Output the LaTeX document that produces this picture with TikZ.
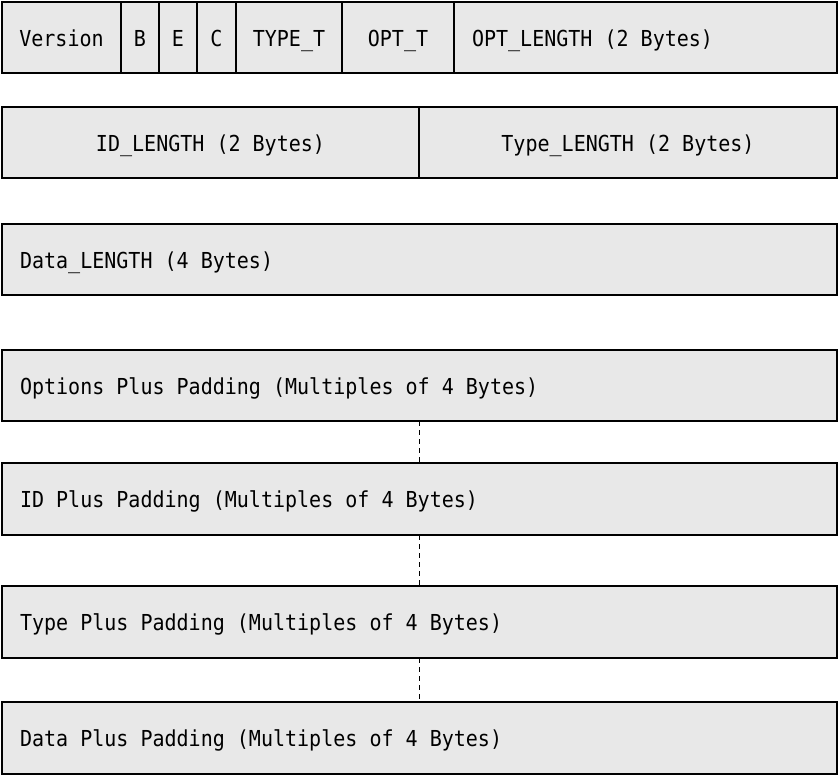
\documentclass[tikz,border=0pt]{standalone}
\usepackage{fontspec}
\setmonofont[FakeStretch=0.91]{DejaVu Sans Mono}
\usepackage{xcolor}
\usepackage{tikz}
\definecolor{fieldfill}{HTML}{E8E8E8}
\definecolor{rule}{HTML}{000000}
\tikzset{
  field/.style={draw=rule, fill=fieldfill, line width=2pt, anchor=north west,
    minimum height=71pt, inner sep=0pt, outer sep=0pt,
    text height=21pt, text depth=4pt,
    font=\ttfamily\fontsize{22}{26}\selectfont},
  lfield/.style={field, align=flush left, inner xsep=18pt},
  gap/.style={draw=rule, dashed, line width=1pt, dash pattern=on 5pt off 4pt}
}
\begin{document}
\begin{tikzpicture}[x=1pt, y=-1pt]
  \useasboundingbox (0,0) rectangle (839,777);

  % first header row
  \node[field, minimum width=119pt] (ver) at (2,2) {Version};
  \node[field, minimum width=38pt] (bflag) at (121,2) {B};
  \node[field, minimum width=38pt] (eflag) at (159,2) {E};
  \node[field, minimum width=39pt] (cflag) at (197,2) {C};
  \node[field, minimum width=106pt] (typet) at (236,2) {TYPE\_T};
  \node[field, minimum width=112pt] (optt) at (342,2) {OPT\_T};
  \node[lfield, text width=347pt] (optlen) at (454,2) {OPT\_LENGTH (2 Bytes)};

  % lengths
  \node[field, minimum width=417pt] (idlen) at (2,107) {ID\_LENGTH (2 Bytes)};
  \node[field, minimum width=418pt] (typelen) at (419,107) {Type\_LENGTH (2 Bytes)};
  \node[lfield, text width=799pt] (datalen) at (2,224) {Data\_LENGTH (4 Bytes)};

  % padded payload parts
  \node[lfield, text width=799pt] (optpad) at (2,350) {Options Plus Padding (Multiples of 4 Bytes)};
  \node[lfield, text width=799pt, minimum height=72pt] (idpad) at (2,463) {ID Plus Padding (Multiples of 4 Bytes)};
  \node[lfield, text width=799pt, minimum height=72pt] (typepad) at (2,586) {Type Plus Padding (Multiples of 4 Bytes)};
  \node[lfield, text width=799pt, minimum height=72pt] (datapad) at (2,702) {Data Plus Padding (Multiples of 4 Bytes)};

  \draw[gap] (optpad.south) -- (idpad.north);
  \draw[gap] (idpad.south) -- (typepad.north);
  \draw[gap] (typepad.south) -- (datapad.north);
\end{tikzpicture}
\end{document}
